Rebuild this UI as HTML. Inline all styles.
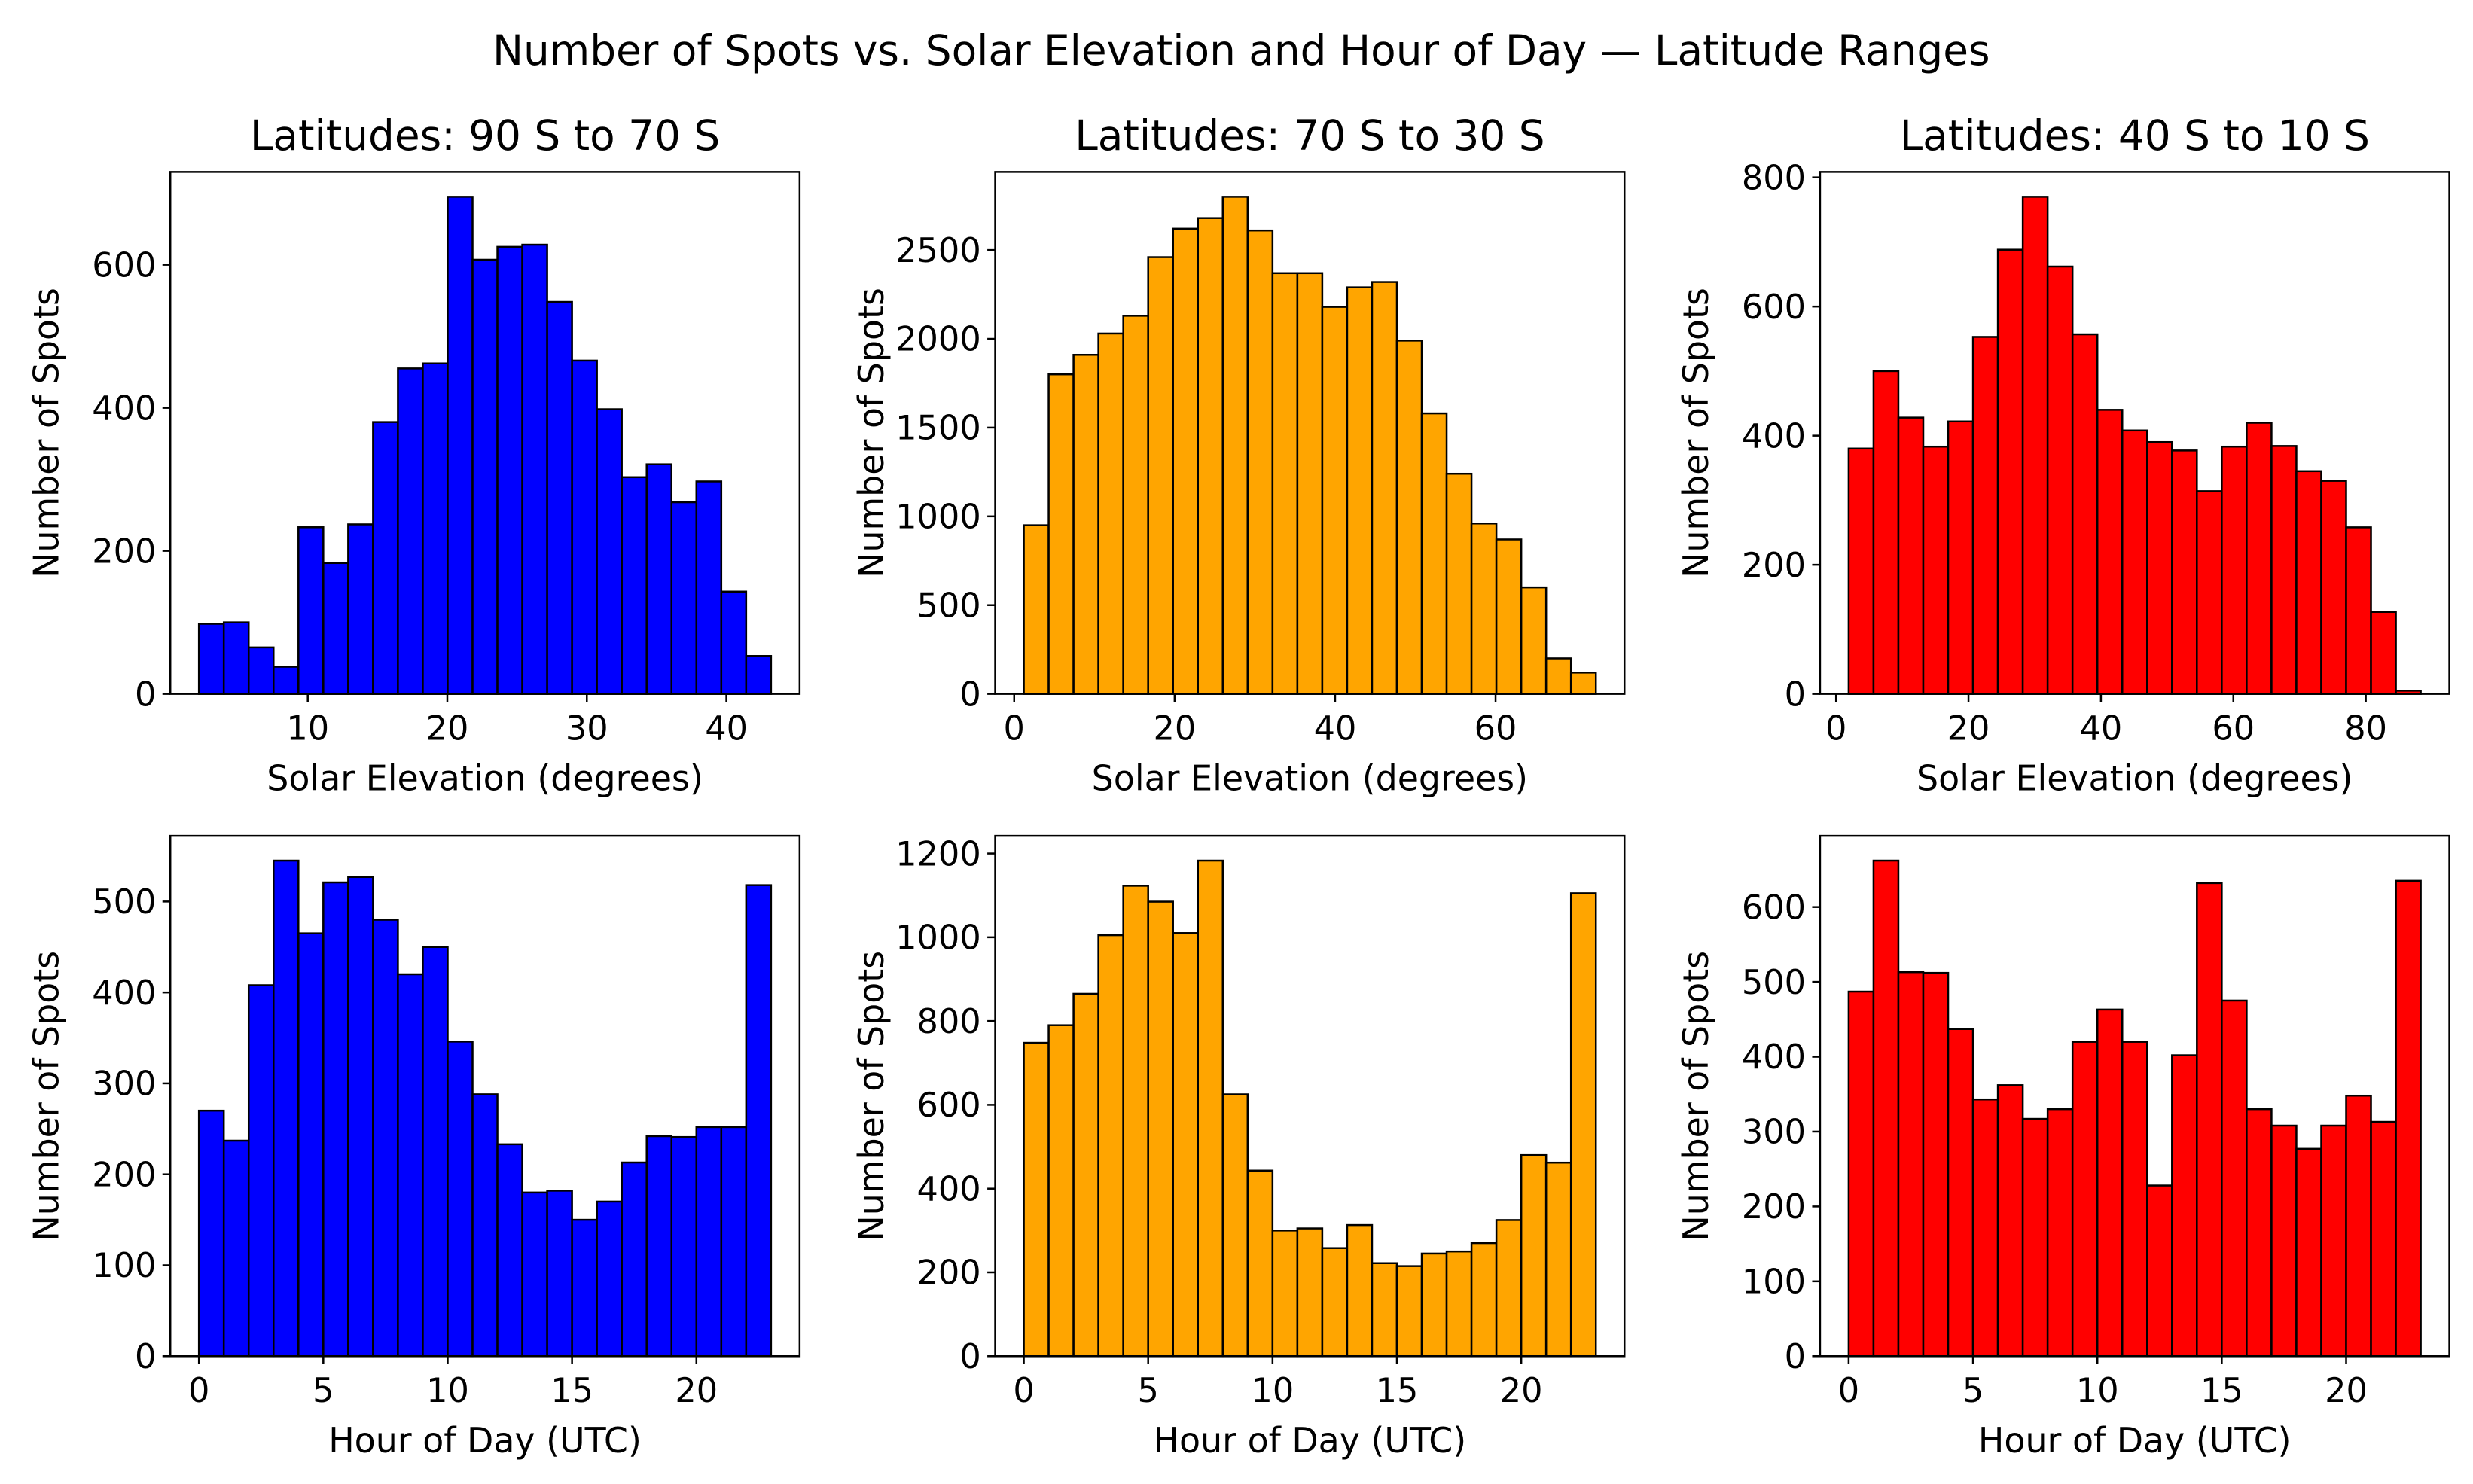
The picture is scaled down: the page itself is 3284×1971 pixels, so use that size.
<!DOCTYPE html>
<html><head><meta charset="utf-8"><style>
html,body{margin:0;padding:0;background:#fff;}
svg{display:block;font-family:"DejaVu Sans","Liberation Sans",sans-serif;}
</style></head><body>
<svg id="fig" width="3284" height="1971" viewBox="0 0 1568 941" xmlns="http://www.w3.org/2000/svg">
<rect width="1568" height="941" fill="#fff"/>
<text x="787" y="41" font-size="26.2" text-anchor="middle">Number of Spots vs. Solar Elevation and Hour of Day — Latitude Ranges</text>
</svg>
<script>
const elevCountsA=[98,100,65,38,233,183,237,380,455,462,695,607,625,628,548,466,398,303,321,268,297,143,53];
const elevCountsB=[950,1800,1910,2030,2130,2460,2620,2680,2800,2610,2370,2370,2180,2290,2320,1990,1580,1240,960,870,600,200,120];
const elevCountsC=[380,500,428,383,422,553,688,770,662,557,440,408,390,377,314,383,420,384,345,330,258,127,5];
const hourCountsA=[270,237,408,545,465,521,527,480,420,450,346,288,233,180,182,150,170,213,242,241,252,252,518];
const hourCountsB=[748,790,865,1005,1123,1085,1010,1183,625,443,300,305,258,313,222,215,245,250,270,325,480,462,1105];
const hourCountsC=[487,662,513,512,437,343,362,317,330,420,463,420,228,402,632,475,330,308,277,308,348,313,635];
const elevRangeA=[2.2,43.2], elevRangeB=[1.2,72.5], elevRangeC=[1.9,88.3], hourRange=[0,23];
const yTicksTop=[[0,200,400,600],[0,500,1000,1500,2000,2500],[0,200,400,600,800]];
const yTicksBot=[[0,100,200,300,400,500],[0,200,400,600,800,1000,1200],[0,100,200,300,400,500,600]];
const xTicksTop=[[10,20,30,40],[0,20,40,60],[0,20,40,60,80]];
const xTicksBot=[0,5,10,15,20];
const titles=["Latitudes: 90 S to 70 S","Latitudes: 70 S to 30 S","Latitudes: 40 S to 10 S"];
const colors=["#0000ff","#ffa500","#ff0000"];

const svg=document.getElementById('fig');
const NS="http://www.w3.org/2000/svg";
function mk(tag,attrs,parent){const e=document.createElementNS(NS,tag);for(const k in attrs)e.setAttribute(k,attrs[k]);(parent||svg).appendChild(e);return e;}

function panel(counts,range,color,x0,y0,w,h,xt,yt,xlabel,title,idx){
  const g=mk('g',{});
  
  
  const n=counts.length, bw=(range[1]-range[0])/n;
  const m=(range[1]-range[0])*0.05, xmin=range[0]-m, xmax=range[1]+m;
  const ymax=Math.max(...counts)*1.05;
  const X=v=>x0+(v-xmin)/(xmax-xmin)*w;
  const Y=v=>y0+h-v/ymax*h;
  counts.forEach((c,i)=>{
    const r=mk('rect',{x:X(range[0]+i*bw),y:Y(c),width:X(range[0]+(i+1)*bw)-X(range[0]+i*bw),height:Y(0)-Y(c),fill:color,stroke:'#000','stroke-width':1.2},g);
    
    
  });
  const fr=mk('rect',{x:x0,y:y0,width:w,height:h,fill:'none',stroke:'#000','stroke-width':1.2},g);
  
  
  xt.forEach(t=>{
    mk('line',{x1:X(t),x2:X(t),y1:y0+h,y2:y0+h+5,stroke:'#000','stroke-width':1.2},g);
    const tx=mk('text',{x:X(t),y:y0+h+29,'font-size':21.3,'text-anchor':'middle'},g);
    tx.textContent=t;
    
    
  });
  yt.forEach(t=>{
    mk('line',{x1:x0-5,x2:x0,y1:Y(t),y2:Y(t),stroke:'#000','stroke-width':1.2},g);
    const tx=mk('text',{x:x0-9,y:Y(t)+7.5,'font-size':21.3,'text-anchor':'end'},g);
    tx.textContent=t;
    
    
  });
  const xl=mk('text',{x:x0+w/2,y:y0+h+61,'font-size':21.9,'text-anchor':'middle'},g);
  xl.textContent=xlabel;
  
  
  const yl=mk('text',{x:0,y:0,'font-size':21.9,'text-anchor':'middle',transform:`translate(${x0-71},${y0+h/2}) rotate(-90)`},g);
  yl.textContent='Number of Spots';
  
  
  if(title){
    const t=mk('text',{x:x0+w/2,y:y0-14,'font-size':26.2,'text-anchor':'middle'},g);
    t.textContent=title;
    
    
  }
}
const xs=[108,631,1154], W=399;
const topC=[elevCountsA,elevCountsB,elevCountsC], topR=[elevRangeA,elevRangeB,elevRangeC];
const botC=[hourCountsA,hourCountsB,hourCountsC];
for(let i=0;i<3;i++){
  panel(topC[i],topR[i],colors[i],xs[i],109,W,331,xTicksTop[i],yTicksTop[i],'Solar Elevation (degrees)',titles[i],'elev-'+i);
  panel(botC[i],hourRange,colors[i],xs[i],530,W,330,xTicksBot,yTicksBot[i],'Hour of Day (UTC)',null,'hour-'+i);
}
</script>
</body></html>
